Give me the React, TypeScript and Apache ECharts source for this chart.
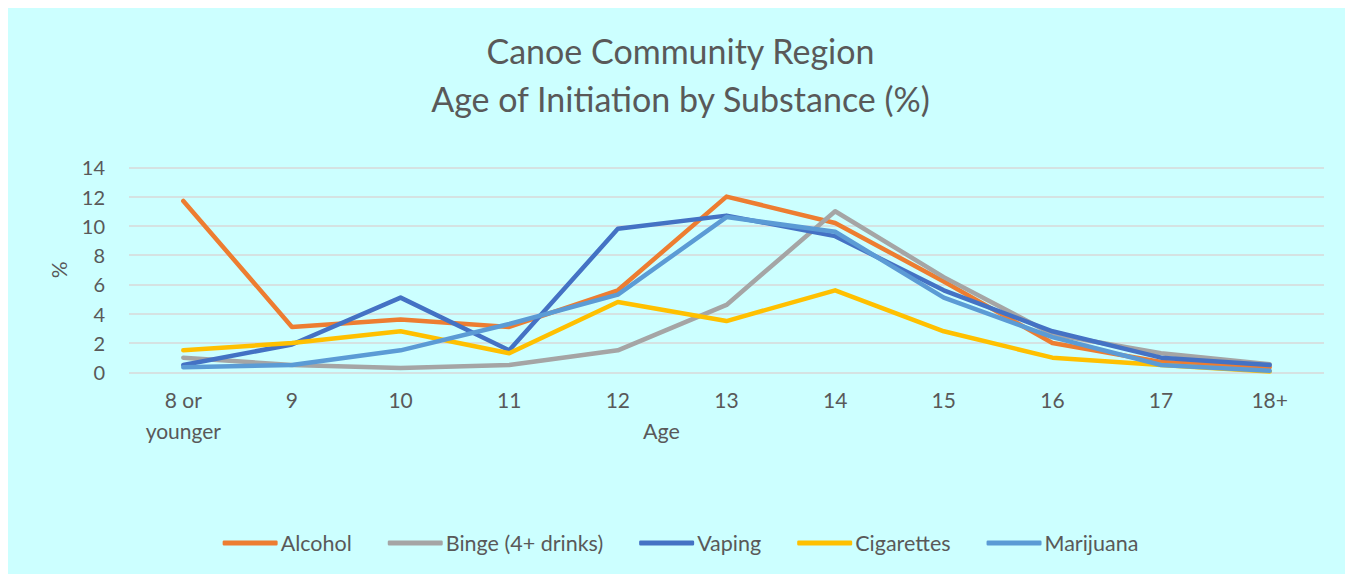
import React, { useEffect, useRef } from "react";
import * as echarts from "echarts";

const categories = ["8 or\nyounger", "9", "10", "11", "12", "13", "14", "15", "16", "17", "18+"];
const alcohol = [11.7, 3.1, 3.6, 3.1, 5.6, 12.0, 10.2, 6.2, 2.0, 0.7, 0.35];
const binge = [1.0, 0.5, 0.3, 0.5, 1.5, 4.6, 11.0, 6.5, 2.6, 1.3, 0.55];
const vaping = [0.5, 1.9, 5.1, 1.5, 9.8, 10.7, 9.3, 5.6, 2.8, 1.0, 0.5];
const cigarettes = [1.5, 2.0, 2.8, 1.3, 4.8, 3.5, 5.6, 2.8, 1.0, 0.5, 0.05];
const marijuana = [0.35, 0.5, 1.5, 3.3, 5.3, 10.6, 9.6, 5.1, 2.4, 0.5, 0.1];
const seriesNames = ["Alcohol", "Binge (4+ drinks)", "Vaping", "Cigarettes", "Marijuana"];
const colors = ["#ED7D31", "#A5A5A5", "#4472C4", "#FFC000", "#5B9BD5"];
const titleLines = "Canoe Community Region\nAge of Initiation by Substance (%)";

const FONT = "Lato, 'Open Sans', sans-serif";
const TXT = "#595959";

export default function App() {
  const ref = useRef<HTMLDivElement>(null);
  useEffect(() => {
    if (!ref.current) return;
    const chart = echarts.init(ref.current, null, { renderer: "svg" });
    const data = [alcohol, binge, vaping, cigarettes, marijuana];
    chart.setOption({
      animation: false,
      backgroundColor: "#CCFFFF",
      color: colors,
      textStyle: { fontFamily: FONT, color: TXT },
      title: {
        text: titleLines,
        left: "center",
        top: 13,
        textStyle: { fontFamily: FONT, fontSize: 34, fontWeight: "normal", color: TXT, lineHeight: 48 },
      },
      grid: { left: 121, right: 29, top: 159.3, bottom: 201.7, containLabel: false },
      legend: {
        bottom: 15,
        left: "center",
        itemWidth: 55,
        itemHeight: 5,
        itemGap: 36,
        icon: "roundRect",
        textStyle: { fontFamily: FONT, fontSize: 21.5, color: TXT, padding: [0, 0, 0, -2] },
        data: seriesNames,
      },
      xAxis: {
        type: "category",
        data: categories,
        boundaryGap: true,
        name: "Age",
        nameLocation: "middle",
        nameGap: 48,
        nameMoveOverlap: false,
        nameTextStyle: { fontFamily: FONT, fontSize: 21.5, color: TXT, padding: [0, 130, 0, 0] },
        axisLine: { show: false },
        axisTick: { show: false },
        axisLabel: { fontFamily: FONT, fontSize: 21, color: TXT, margin: 12, lineHeight: 31, interval: 0 },
      },
      yAxis: {
        type: "value",
        min: 0,
        max: 14,
        interval: 2,
        name: "%",
        nameLocation: "middle",
        nameGap: 60,
        nameMoveOverlap: false,
        nameTextStyle: { fontFamily: FONT, fontSize: 21, color: TXT },
        axisLine: { show: false },
        axisTick: { show: false },
        axisLabel: { fontFamily: FONT, fontSize: 20, color: TXT, margin: 24 },
        splitLine: { lineStyle: { color: "#D9D9D9", width: 1.5 } },
      },
      series: seriesNames.map((n, i) => ({
        name: n,
        type: "line",
        data: data[i],
        symbol: "none",
        lineStyle: { width: 4.5, color: colors[i], cap: "round", join: "round" },
        itemStyle: { color: colors[i] },
      })),
    });
    return () => chart.dispose();
  }, []);
  return <div ref={ref} style={{ width: 1345, height: 566 }} />;
}
